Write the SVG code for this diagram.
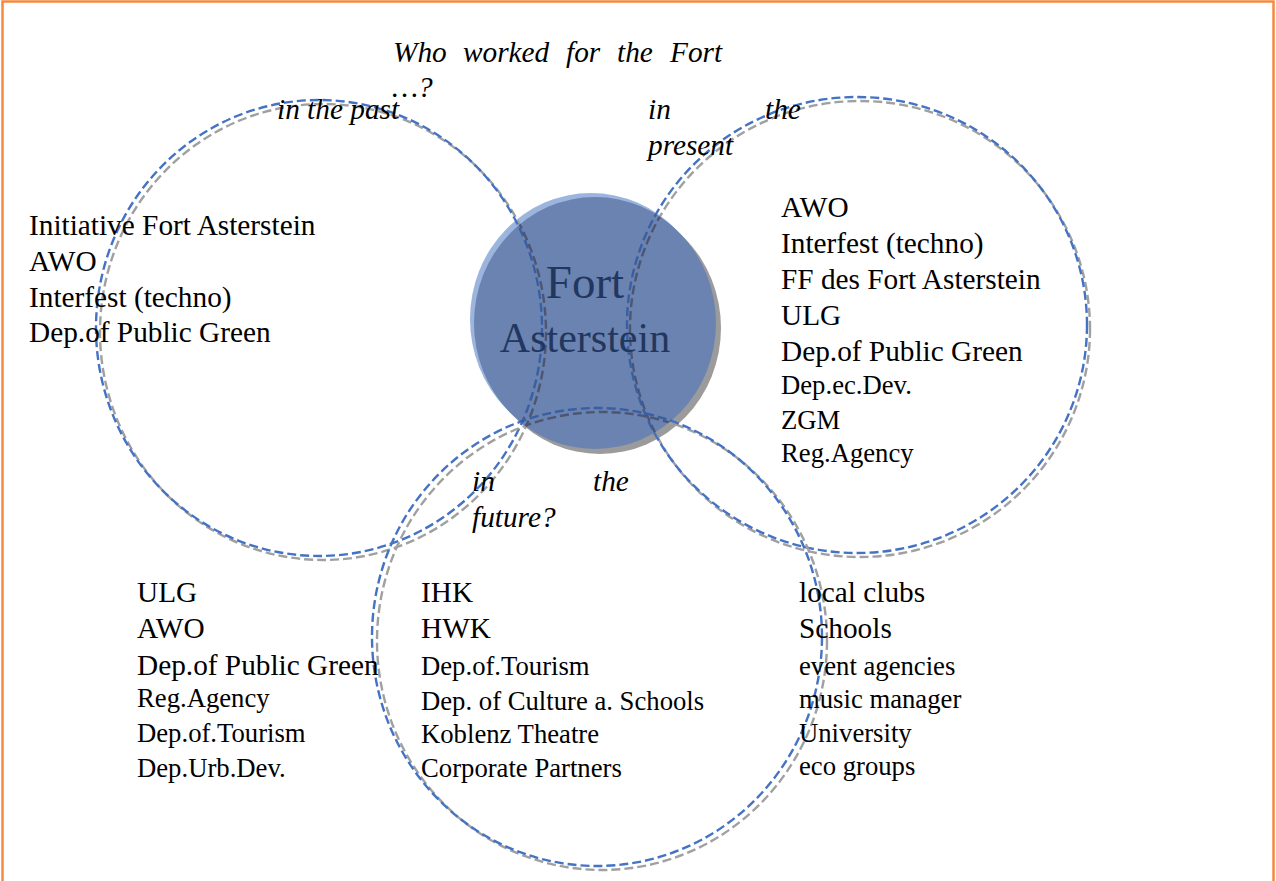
<svg xmlns="http://www.w3.org/2000/svg" width="1276" height="881" viewBox="0 0 1276 881">
<style>
.b{fill:none;stroke:#4472C4;stroke-width:2.4;stroke-dasharray:9 4}
.g{fill:none;stroke:#A0A0A0;stroke-width:2.4;stroke-dasharray:9 4}
.bi{fill:none;stroke:#3A5EA2;stroke-width:2.4;stroke-dasharray:9 4}
.gi{fill:none;stroke:#4C5672;stroke-width:2.4;stroke-dasharray:9 4}
.t{font-family:"Liberation Serif","Times New Roman",serif;fill:#000}
.l{font-size:29.3px}
.s{font-size:26.7px}
.i{font-style:italic;font-size:29.3px}
.c{font-family:"Liberation Serif","Times New Roman",serif;fill:#22375F;text-anchor:middle}
</style>
<defs>
<clipPath id="inner"><ellipse cx="595" cy="323" rx="121" ry="126"/></clipPath>
</defs>
<rect x="2.5" y="1.5" width="1271" height="900" fill="#fff" stroke="#F58A3F" stroke-width="2.5"/>

<g id="center-back">
<ellipse cx="600" cy="328" rx="121" ry="126" fill="#9B9B9B"/>
<ellipse cx="591" cy="319" rx="121" ry="126" fill="#9BB5DE"/>
</g>

<g id="past">
<ellipse class="g" cx="323" cy="332" rx="223" ry="228"/>
<ellipse class="b" cx="319" cy="328" rx="223" ry="228"/>
</g>
<g id="present">
<ellipse class="g" cx="860" cy="329" rx="230" ry="228"/>
<ellipse class="b" cx="857" cy="325" rx="230" ry="228"/>
</g>
<g id="future">
<ellipse class="g" cx="602" cy="641" rx="225" ry="229"/>
<ellipse class="b" cx="597" cy="637" rx="225" ry="229"/>
</g>

<g id="center">
<ellipse cx="595" cy="323" rx="121" ry="126" fill="#6B83B0"/>
<g clip-path="url(#inner)">
<ellipse class="gi" cx="323" cy="332" rx="223" ry="228"/>
<ellipse class="bi" cx="319" cy="328" rx="223" ry="228"/>
<ellipse class="gi" cx="860" cy="329" rx="230" ry="228"/>
<ellipse class="bi" cx="857" cy="325" rx="230" ry="228"/>
<ellipse class="gi" cx="602" cy="641" rx="225" ry="229"/>
<ellipse class="bi" cx="597" cy="637" rx="225" ry="229"/>
</g>
<text class="c" x="585" y="298" font-size="47">Fort</text>
<text class="c" x="585" y="352" font-size="42">Asterstein</text>
</g>

<g id="title" class="t i">
<text x="393" y="62">Who</text>
<text x="463" y="62">worked</text>
<text x="566" y="62">for</text>
<text x="617" y="62">the</text>
<text x="670" y="62">Fort</text>
<text x="392" y="97">…?</text>
</g>

<g id="past-labels" class="t">
<text class="i" x="277" y="119">in the past</text>
<text class="l" x="29" y="235">Initiative Fort Asterstein</text>
<text class="l" x="29" y="271">AWO</text>
<text class="l" x="29" y="307">Interfest (techno)</text>
<text class="l" x="29" y="342">Dep.of Public Green</text>
</g>

<g id="present-labels" class="t">
<text class="i" x="648" y="119">in</text>
<text class="i" x="765" y="119">the</text>
<text class="i" x="648" y="155">present</text>
<text class="l" x="781" y="217">AWO</text>
<text class="l" x="781" y="253">Interfest (techno)</text>
<text class="l" x="781" y="289">FF des Fort Asterstein</text>
<text class="l" x="781" y="325">ULG</text>
<text class="l" x="781" y="361">Dep.of Public Green</text>
<text class="s" x="781" y="394">Dep.ec.Dev.</text>
<text class="s" x="781" y="429">ZGM</text>
<text class="s" x="781" y="462">Reg.Agency</text>
</g>

<g id="future-labels" class="t">
<text class="i" x="472" y="491">in</text>
<text class="i" x="593" y="491">the</text>
<text class="i" x="472" y="527">future?</text>
</g>

<g id="col-left" class="t">
<text class="l" x="137" y="602">ULG</text>
<text class="l" x="137" y="638">AWO</text>
<text class="l" x="137" y="675">Dep.of Public Green</text>
<text class="s" x="137" y="707">Reg.Agency</text>
<text class="s" x="137" y="742">Dep.of.Tourism</text>
<text class="s" x="137" y="777">Dep.Urb.Dev.</text>
</g>

<g id="col-mid" class="t">
<text class="l" x="421" y="602">IHK</text>
<text class="l" x="421" y="638">HWK</text>
<text class="s" x="421" y="675">Dep.of.Tourism</text>
<text class="s" x="421" y="710">Dep. of Culture a. Schools</text>
<text class="s" x="421" y="743">Koblenz Theatre</text>
<text class="s" x="421" y="777">Corporate Partners</text>
</g>

<g id="col-right" class="t">
<text class="l" x="799" y="602">local clubs</text>
<text class="l" x="799" y="638">Schools</text>
<text class="s" x="799" y="675">event agencies</text>
<text class="s" x="799" y="708">music manager</text>
<text class="s" x="799" y="742">University</text>
<text class="s" x="799" y="775">eco groups</text>
</g>
</svg>
